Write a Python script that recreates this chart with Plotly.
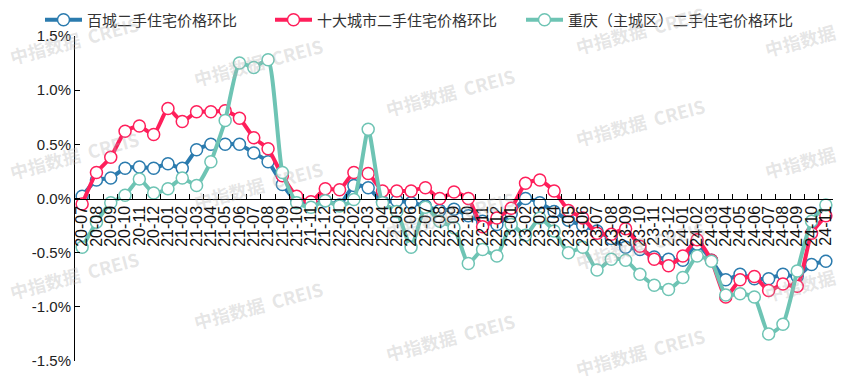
import plotly.graph_objects as go

months = ["20-07", "20-08", "20-09", "20-10", "20-11", "20-12",
          "21-01", "21-02", "21-03", "21-04", "21-05", "21-06",
          "21-07", "21-08", "21-09", "21-10", "21-11", "21-12",
          "22-01", "22-02", "22-03", "22-04", "22-05", "22-06",
          "22-07", "22-08", "22-09", "22-10", "22-11", "22-12",
          "23-01", "23-02", "23-03", "23-04", "23-05", "23-06",
          "23-07", "23-08", "23-09", "23-10", "23-11", "23-12",
          "24-01", "24-02", "24-03", "24-04", "24-05", "24-06",
          "24-07", "24-08", "24-09", "24-10", "24-11"]

name_100 = "百城二手住宅价格环比"
name_10 = "十大城市二手住宅价格环比"
name_cq = "重庆（主城区）二手住宅价格环比"

hundred_city = [0.02, 0.17, 0.19, 0.28, 0.29, 0.28, 0.32, 0.28, 0.45, 0.50,
                0.50, 0.50, 0.42, 0.34, 0.13, -0.03, -0.06, -0.02, -0.06, 0.12,
                0.10, -0.03, -0.02, -0.04, -0.07, -0.11, -0.10, -0.16, -0.21, -0.24,
                -0.14, 0.00, -0.04, -0.12, -0.20, -0.25, -0.30, -0.37, -0.45, -0.47,
                -0.54, -0.56, -0.57, -0.42, -0.57, -0.75, -0.70, -0.74, -0.74, -0.70,
                -0.72, -0.61, -0.58]

ten_city = [-0.05, 0.24, 0.38, 0.62, 0.67, 0.59, 0.83, 0.71, 0.80, 0.80,
            0.81, 0.74, 0.56, 0.46, 0.21, 0.02, -0.03, 0.09, 0.08, 0.24,
            0.23, 0.07, 0.07, 0.07, 0.10, 0.00, 0.06, 0.00, -0.26, -0.18,
            -0.09, 0.14, 0.17, 0.07, -0.11, -0.18, -0.32, -0.33, -0.28, -0.44,
            -0.56, -0.62, -0.53, -0.38, -0.57, -0.91, -0.75, -0.72, -0.85, -0.79,
            -0.81, -0.32, -0.16]

chongqing = [-0.45, -0.22, -0.04, 0.03, 0.18, 0.05, 0.09, 0.19, 0.12, 0.34,
             0.72, 1.25, 1.21, 1.28, 0.24, -0.04, -0.08, -0.02, -0.07, -0.01,
             0.64, -0.04, -0.12, -0.45, -0.08, -0.21, -0.27, -0.60, -0.47, -0.53,
             -0.24, -0.34, -0.18, -0.30, -0.50, -0.45, -0.66, -0.56, -0.57, -0.70,
             -0.80, -0.84, -0.73, -0.53, -0.58, -0.89, -0.88, -0.91, -1.25, -1.16,
             -0.67, -0.21, -0.06]

y_tickvals = [1.5, 1.0, 0.5, 0.0, -0.5, -1.0, -1.5]
y_ticktext = ["1.5%", "1.0%", "0.5%", "0.0%", "-0.5%", "-1.0%", "-1.5%"]

watermark_text = "中指数据  CREIS"
watermark_short = "中指数据"

BLUE = "#2B7BAE"
RED = "#FF1F5B"
TEAL = "#6EC4B4"

W, H = 851, 384
ML, MR, MT, MB = 75, 18, 36, 23
PW, PH = W - ML - MR, H - MT - MB


def px_x(px):
    return (px - ML) / PW


def px_y(py):
    return (H - MB - py) / PH


fig = go.Figure()
series = [(name_100, hundred_city, BLUE, "legend"),
          (name_10, ten_city, RED, "legend2"),
          (name_cq, chongqing, TEAL, "legend3")]
for name, vals, color, lg in series:
    fig.add_trace(go.Scatter(
        x=months, y=vals, name=name, mode="lines+markers",
        line=dict(color=color, width=4, shape="spline", smoothing=0.5),
        marker=dict(symbol="circle", size=12, color="white",
                    line=dict(color=color, width=1.5)),
        legend=lg, cliponaxis=False,
    ))

legend_font = dict(family="Noto Sans CJK SC, sans-serif", size=15, color="#333333")
common_leg = dict(orientation="h", xanchor="left", yanchor="middle",
                  y=px_y(20), font=legend_font, bgcolor="rgba(0,0,0,0)",
                  borderwidth=0, itemwidth=37)

wm_full = [(74, 40), (74, 155), (74, 275),
           (258, 62), (258, 185), (258, 305),
           (450, 92), (450, 215), (450, 337),
           (640, 30), (640, 122), (640, 245), (640, 352)]
wm_short = [(800, 40), (800, 162), (800, 285)]
annotations = []
for group, txt in ((wm_full, watermark_text), (wm_short, watermark_short)):
    for cx, cy in group:
        annotations.append(dict(
            text=txt, x=px_x(cx), y=px_y(cy), xref="paper", yref="paper",
            xanchor="center", yanchor="middle",
            showarrow=False, textangle=-15,
            font=dict(family="Noto Sans CJK SC, sans-serif", size=18,
                      color="rgba(175,175,175,0.33)", weight="bold"),
        ))

fig.update_layout(
    width=W, height=H,
    margin=dict(l=ML, r=MR, t=MT, b=MB, pad=0, autoexpand=False),
    paper_bgcolor="white", plot_bgcolor="white",
    showlegend=True,
    legend=dict(common_leg, x=px_x(40)),
    legend2=dict(common_leg, x=px_x(270)),
    legend3=dict(common_leg, x=px_x(521)),
    annotations=annotations,
    xaxis=dict(
        type="category", anchor="free", position=0.5,
        range=[-0.5, len(months) - 0.5],
        tickmode="array", tickvals=months, ticktext=months,
        showline=True, linecolor="black", linewidth=1,
        ticks="inside", ticklen=5, tickcolor="black", tickson="boundaries",
        tickangle=-90, showgrid=False, zeroline=False,
        tickfont=dict(family="Liberation Sans, Arial, sans-serif", size=16, color="#111111"),
    ),
    yaxis=dict(
        range=[-1.5, 1.5], tickvals=y_tickvals, ticktext=y_ticktext,
        showline=True, linecolor="black", linewidth=1,
        ticks="inside", ticklen=5, tickcolor="black",
        showgrid=False, zeroline=False,
        tickfont=dict(family="Liberation Sans, Arial, sans-serif", size=15, color="#222222"),
    ),
)

fig.write_html("out.html")
